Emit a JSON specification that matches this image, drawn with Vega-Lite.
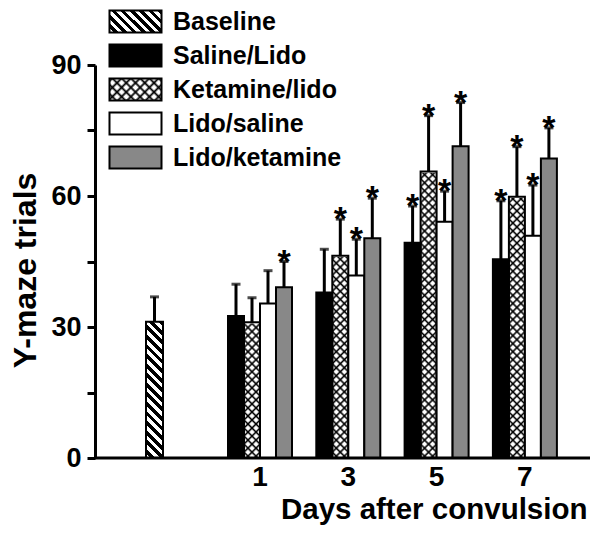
{
"$schema": "https://vega.github.io/schema/vega-lite/v6.json",
"width": 495,
"height": 393,
"autosize": "none",
"padding": {"left": 95, "top": 65, "right": 10, "bottom": 76},
"background": "#ffffff",
"config": {"view": {"stroke": null}, "axis": {"grid": false}},
"params": [
{"name": "stX", "value": [
{"offset":0,"color":"transparent"},{"offset":0.007,"color":"#000"},{"offset":0.014,"color":"transparent"},
{"offset":0.025,"color":"transparent"},{"offset":0.032,"color":"#000"},{"offset":0.039,"color":"transparent"},
{"offset":0.05,"color":"transparent"},{"offset":0.057,"color":"#000"},{"offset":0.064,"color":"transparent"},
{"offset":0.075,"color":"transparent"},{"offset":0.082,"color":"#000"},{"offset":0.089,"color":"transparent"},
{"offset":0.1,"color":"transparent"},{"offset":0.107,"color":"#000"},{"offset":0.114,"color":"transparent"},
{"offset":0.125,"color":"transparent"},{"offset":0.132,"color":"#000"},{"offset":0.139,"color":"transparent"},
{"offset":0.15,"color":"transparent"},{"offset":0.157,"color":"#000"},{"offset":0.164,"color":"transparent"},
{"offset":0.175,"color":"transparent"},{"offset":0.182,"color":"#000"},{"offset":0.189,"color":"transparent"},
{"offset":0.2,"color":"transparent"},{"offset":0.207,"color":"#000"},{"offset":0.214,"color":"transparent"},
{"offset":0.225,"color":"transparent"},{"offset":0.232,"color":"#000"},{"offset":0.239,"color":"transparent"},
{"offset":0.25,"color":"transparent"},{"offset":0.257,"color":"#000"},{"offset":0.264,"color":"transparent"},
{"offset":0.275,"color":"transparent"},{"offset":0.282,"color":"#000"},{"offset":0.289,"color":"transparent"},
{"offset":0.3,"color":"transparent"},{"offset":0.307,"color":"#000"},{"offset":0.314,"color":"transparent"},
{"offset":0.325,"color":"transparent"},{"offset":0.332,"color":"#000"},{"offset":0.339,"color":"transparent"},
{"offset":0.35,"color":"transparent"},{"offset":0.357,"color":"#000"},{"offset":0.364,"color":"transparent"},
{"offset":0.375,"color":"transparent"},{"offset":0.382,"color":"#000"},{"offset":0.389,"color":"transparent"},
{"offset":0.4,"color":"transparent"},{"offset":0.407,"color":"#000"},{"offset":0.414,"color":"transparent"},
{"offset":0.425,"color":"transparent"},{"offset":0.432,"color":"#000"},{"offset":0.439,"color":"transparent"},
{"offset":0.45,"color":"transparent"},{"offset":0.457,"color":"#000"},{"offset":0.464,"color":"transparent"},
{"offset":0.475,"color":"transparent"},{"offset":0.482,"color":"#000"},{"offset":0.489,"color":"transparent"},
{"offset":0.5,"color":"transparent"},{"offset":0.507,"color":"#000"},{"offset":0.514,"color":"transparent"},
{"offset":0.525,"color":"transparent"},{"offset":0.532,"color":"#000"},{"offset":0.539,"color":"transparent"},
{"offset":0.55,"color":"transparent"},{"offset":0.557,"color":"#000"},{"offset":0.564,"color":"transparent"},
{"offset":0.575,"color":"transparent"},{"offset":0.582,"color":"#000"},{"offset":0.589,"color":"transparent"},
{"offset":0.6,"color":"transparent"},{"offset":0.607,"color":"#000"},{"offset":0.614,"color":"transparent"},
{"offset":0.625,"color":"transparent"},{"offset":0.632,"color":"#000"},{"offset":0.639,"color":"transparent"},
{"offset":0.65,"color":"transparent"},{"offset":0.657,"color":"#000"},{"offset":0.664,"color":"transparent"},
{"offset":0.675,"color":"transparent"},{"offset":0.682,"color":"#000"},{"offset":0.689,"color":"transparent"},
{"offset":0.7,"color":"transparent"},{"offset":0.707,"color":"#000"},{"offset":0.714,"color":"transparent"},
{"offset":0.725,"color":"transparent"},{"offset":0.732,"color":"#000"},{"offset":0.739,"color":"transparent"},
{"offset":0.75,"color":"transparent"},{"offset":0.757,"color":"#000"},{"offset":0.764,"color":"transparent"},
{"offset":0.775,"color":"transparent"},{"offset":0.782,"color":"#000"},{"offset":0.789,"color":"transparent"},
{"offset":0.8,"color":"transparent"},{"offset":0.807,"color":"#000"},{"offset":0.814,"color":"transparent"},
{"offset":0.825,"color":"transparent"},{"offset":0.832,"color":"#000"},{"offset":0.839,"color":"transparent"},
{"offset":0.85,"color":"transparent"},{"offset":0.857,"color":"#000"},{"offset":0.864,"color":"transparent"},
{"offset":0.875,"color":"transparent"},{"offset":0.882,"color":"#000"},{"offset":0.889,"color":"transparent"},
{"offset":0.9,"color":"transparent"},{"offset":0.907,"color":"#000"},{"offset":0.914,"color":"transparent"},
{"offset":0.925,"color":"transparent"},{"offset":0.932,"color":"#000"},{"offset":0.939,"color":"transparent"},
{"offset":0.95,"color":"transparent"},{"offset":0.957,"color":"#000"},{"offset":0.964,"color":"transparent"},
{"offset":0.975,"color":"transparent"},{"offset":0.982,"color":"#000"},{"offset":0.989,"color":"transparent"}
]},
{"name": "stH", "value": [
{"offset":0,"color":"#000"},{"offset":0.03125,"color":"#000"},{"offset":0.03125,"color":"#fff"},{"offset":0.0625,"color":"#fff"},
{"offset":0.0625,"color":"#000"},{"offset":0.09375,"color":"#000"},{"offset":0.09375,"color":"#fff"},{"offset":0.125,"color":"#fff"},
{"offset":0.125,"color":"#000"},{"offset":0.15625,"color":"#000"},{"offset":0.15625,"color":"#fff"},{"offset":0.1875,"color":"#fff"},
{"offset":0.1875,"color":"#000"},{"offset":0.21875,"color":"#000"},{"offset":0.21875,"color":"#fff"},{"offset":0.25,"color":"#fff"},
{"offset":0.25,"color":"#000"},{"offset":0.28125,"color":"#000"},{"offset":0.28125,"color":"#fff"},{"offset":0.3125,"color":"#fff"},
{"offset":0.3125,"color":"#000"},{"offset":0.34375,"color":"#000"},{"offset":0.34375,"color":"#fff"},{"offset":0.375,"color":"#fff"},
{"offset":0.375,"color":"#000"},{"offset":0.40625,"color":"#000"},{"offset":0.40625,"color":"#fff"},{"offset":0.4375,"color":"#fff"},
{"offset":0.4375,"color":"#000"},{"offset":0.46875,"color":"#000"},{"offset":0.46875,"color":"#fff"},{"offset":0.5,"color":"#fff"},
{"offset":0.5,"color":"#000"},{"offset":0.53125,"color":"#000"},{"offset":0.53125,"color":"#fff"},{"offset":0.5625,"color":"#fff"},
{"offset":0.5625,"color":"#000"},{"offset":0.59375,"color":"#000"},{"offset":0.59375,"color":"#fff"},{"offset":0.625,"color":"#fff"},
{"offset":0.625,"color":"#000"},{"offset":0.65625,"color":"#000"},{"offset":0.65625,"color":"#fff"},{"offset":0.6875,"color":"#fff"},
{"offset":0.6875,"color":"#000"},{"offset":0.71875,"color":"#000"},{"offset":0.71875,"color":"#fff"},{"offset":0.75,"color":"#fff"},
{"offset":0.75,"color":"#000"},{"offset":0.78125,"color":"#000"},{"offset":0.78125,"color":"#fff"},{"offset":0.8125,"color":"#fff"},
{"offset":0.8125,"color":"#000"},{"offset":0.84375,"color":"#000"},{"offset":0.84375,"color":"#fff"},{"offset":0.875,"color":"#fff"},
{"offset":0.875,"color":"#000"},{"offset":0.90625,"color":"#000"},{"offset":0.90625,"color":"#fff"},{"offset":0.9375,"color":"#fff"},
{"offset":0.9375,"color":"#000"},{"offset":0.96875,"color":"#000"},{"offset":0.96875,"color":"#fff"},{"offset":1,"color":"#fff"}
]}
],
"data": {"values": [
{"day":"Baseline","group":"Baseline","value":31.2,"err":36.9,"sig":""},
{"day":"1","group":"Saline/Lido","value":32.5,"err":39.8,"sig":""},
{"day":"1","group":"Ketamine/lido","value":31.1,"err":36.7,"sig":""},
{"day":"1","group":"Lido/saline","value":35.4,"err":42.9,"sig":""},
{"day":"1","group":"Lido/ketamine","value":39.1,"err":45.0,"sig":"*"},
{"day":"3","group":"Saline/Lido","value":37.9,"err":47.8,"sig":""},
{"day":"3","group":"Ketamine/lido","value":46.3,"err":54.7,"sig":"*"},
{"day":"3","group":"Lido/saline","value":41.8,"err":50.1,"sig":"*"},
{"day":"3","group":"Lido/ketamine","value":50.3,"err":59.5,"sig":"*"},
{"day":"5","group":"Saline/Lido","value":49.3,"err":57.7,"sig":"*"},
{"day":"5","group":"Ketamine/lido","value":65.6,"err":78.4,"sig":"*"},
{"day":"5","group":"Lido/saline","value":54.1,"err":61.1,"sig":"*"},
{"day":"5","group":"Lido/ketamine","value":71.4,"err":81.4,"sig":"*"},
{"day":"7","group":"Saline/Lido","value":45.5,"err":58.9,"sig":"*"},
{"day":"7","group":"Ketamine/lido","value":59.8,"err":71.3,"sig":"*"},
{"day":"7","group":"Lido/saline","value":50.9,"err":62.5,"sig":"*"},
{"day":"7","group":"Lido/ketamine","value":68.6,"err":75.6,"sig":"*"}
]},
"layer": [
{
"transform": [{"filter": "datum.group === 'Baseline'"}],
"encoding": {"x": {"field": "day", "type": "nominal", "scale": {"domain": ["Baseline"], "range": [51, 68], "paddingInner": 0, "paddingOuter": 0}, "axis": null}},
"layer": [
{"mark": {"type": "bar", "fill": {"expr": "{gradient:'linear',x1:1,y1:0,x2:0.8618,y2:1.10754,stops:stH}"}, "stroke": "#000", "strokeWidth": 2},
 "encoding": {"y": {"field": "value", "type": "quantitative", "scale": {"domain": [0, 90], "nice": false},
   "axis": {"values": [0, 15, 30, 45, 60, 75, 90], "labelExpr": "datum.value % 30 === 0 ? datum.label : ''", "labelOverlap": false, "grid": false,
     "domainColor": "#000", "domainWidth": 3, "tickColor": "#000", "tickWidth": 3, "tickSize": 8,
     "labelFont": "Liberation Sans", "labelFontWeight": "bold", "labelFontSize": 27, "labelColor": "#000", "labelPadding": 6,
     "title": "Y-maze trials", "titleFont": "Liberation Sans", "titleFontWeight": "bold", "titleFontSize": 32, "titleColor": "#000",
     "titleX": -60, "titleY": 205, "titleAngle": -90, "titleAlign": "center", "titleBaseline": "alphabetic"}}}},
{"mark": {"type": "rule", "color": "#000", "strokeWidth": 3},
 "encoding": {"y": {"field": "value", "type": "quantitative", "scale": {"domain": [0, 90], "nice": false}}, "y2": {"field": "err"}}},
{"mark": {"type": "tick", "color": "#000", "orient": "horizontal", "size": 9, "thickness": 3},
 "encoding": {"y": {"field": "err", "type": "quantitative", "scale": {"domain": [0, 90], "nice": false}}}}
]
},
{
"transform": [{"filter": "datum.group !== 'Baseline'"}],
"encoding": {
 "x": {"field": "day", "type": "ordinal", "scale": {"domain": ["1", "3", "5", "7"], "range": [133, 461.9], "paddingInner": 0.2752, "paddingOuter": 0},
   "axis": {"title": "Days after convulsion", "domain": false, "ticks": false, "tickSize": 0, "labelAngle": 0,
     "labelFont": "Liberation Sans", "labelFontWeight": "bold", "labelFontSize": 28, "labelColor": "#000", "labelBaseline": "alphabetic", "labelPadding": 27.5,
     "titleFont": "Liberation Sans", "titleFontSize": 29.5, "titleFontWeight": "bold", "titleColor": "#000",
     "titleX": 492, "titleY": 60, "titleAlign": "right", "titleBaseline": "alphabetic"}},
 "xOffset": {"field": "group", "type": "nominal", "scale": {"domain": ["Saline/Lido", "Ketamine/lido", "Lido/saline", "Lido/ketamine"], "paddingInner": 0, "paddingOuter": 0}}
},
"layer": [
{"transform": [{"filter": "datum.group === 'Ketamine/lido'"}],
 "mark": {"type": "bar", "fill": {"expr": "{gradient:'linear',x1:1,y1:0,x2:0.94507,y2:1.04947,stops:stX}"}, "strokeWidth": 0},
 "encoding": {"y": {"datum": 70, "type": "quantitative", "scale": {"domain": [0, 90], "nice": false}}, "y2": {"datum": 0}}},
{"transform": [{"filter": "datum.group === 'Ketamine/lido'"}],
 "mark": {"type": "bar", "fill": {"expr": "{gradient:'linear',x1:0,y1:0,x2:0.05493,y2:1.04947,stops:stX}"}, "strokeWidth": 0},
 "encoding": {"y": {"datum": 70, "type": "quantitative", "scale": {"domain": [0, 90], "nice": false}}, "y2": {"datum": 0}}},
{"transform": [{"filter": "datum.group === 'Ketamine/lido'"}],
 "mark": {"type": "bar", "fill": "#ffffff", "stroke": "#ffffff", "strokeWidth": 2.5},
 "encoding": {"y": {"field": "value", "type": "quantitative", "scale": {"domain": [0, 90], "nice": false}}, "y2": {"datum": 70}}},
{"mark": {"type": "bar", "stroke": "#000", "strokeWidth": 2},
 "encoding": {"y": {"field": "value", "type": "quantitative", "scale": {"domain": [0, 90], "nice": false}},
   "fill": {"condition": [{"test": "datum.group === 'Saline/Lido'", "value": "#000000"}, {"test": "datum.group === 'Lido/ketamine'", "value": "#888888"}, {"test": "datum.group === 'Lido/saline'", "value": "#ffffff"}], "value": "transparent"}}},
{"mark": {"type": "rule", "color": "#000", "strokeWidth": 3},
 "encoding": {"y": {"field": "value", "type": "quantitative", "scale": {"domain": [0, 90], "nice": false}}, "y2": {"field": "err"}}},
{"mark": {"type": "tick", "color": "#000", "orient": "horizontal", "size": 9, "thickness": 3},
 "encoding": {"y": {"field": "err", "type": "quantitative", "scale": {"domain": [0, 90], "nice": false}}}},
{"mark": {"type": "text", "font": "Liberation Sans", "fontWeight": "bold", "fontSize": 34, "dy": 11, "baseline": "alphabetic", "align": "center", "color": "#000"},
 "encoding": {"y": {"field": "err", "type": "quantitative", "scale": {"domain": [0, 90], "nice": false}}, "text": {"field": "sig"}}}
]
},
{
"transform": [{"filter": "false"}],
"mark": {"type": "bar", "stroke": "#000", "strokeWidth": 2},
"encoding": {"fill": {"field": "group", "type": "nominal",
  "scale": {"domain": ["Baseline", "Saline/Lido", "Ketamine/lido", "Lido/saline", "Lido/ketamine"],
    "range": [{"expr": "{gradient:'linear',x1:1,y1:0,x2:-1.41404,y2:1.02132,stops:stH}"}, "#000000", {"expr": "{gradient:'linear',x1:1,y1:0,x2:-5.0351,y2:2.5533,stops:stX}"}, "#ffffff", "#888888"]},
  "legend": {"orient": "none", "legendX": 28, "legendY": -56, "title": null, "padding": 0, "zindex": 1,
    "symbolType": "M-2.364,-1H2.364V1H-2.364Z", "symbolSize": 484, "symbolStrokeColor": "#000", "symbolStrokeWidth": 2, "symbolOpacity": 1,
    "labelFont": "Liberation Sans", "labelFontSize": 25, "labelFontWeight": "bold", "labelColor": "#000", "labelOffset": 25, "labelLimit": 400, "rowPadding": 3}}}
},
{
"transform": [{"filter": "false"}],
"mark": {"type": "bar", "stroke": "transparent", "strokeWidth": 2},
"encoding": {"fill": {"field": "group", "type": "nominal",
  "scale": {"domain": ["Baseline", "Saline/Lido", "Ketamine/lido", "Lido/saline", "Lido/ketamine"],
    "range": ["transparent", "transparent", {"expr": "{gradient:'linear',x1:0,y1:0,x2:6.0351,y2:2.5533,stops:stX}"}, "transparent", "transparent"]},
  "legend": {"orient": "none", "legendX": 28, "legendY": -56, "title": null, "padding": 0, "zindex": 2,
    "symbolType": "M-2.364,-1H2.364V1H-2.364Z", "symbolSize": 484, "symbolStrokeColor": "transparent", "symbolStrokeWidth": 2, "symbolOpacity": 1,
    "labelFont": "Liberation Sans", "labelFontSize": 25, "labelFontWeight": "bold", "labelColor": "#000", "labelExpr": "''", "labelOffset": 25, "labelLimit": 400, "rowPadding": 3}}}
},
{
"transform": [{"filter": "datum.group === 'Baseline'"}],
"mark": {"type": "rule", "color": "#000", "strokeWidth": 3},
"encoding": {"y": {"datum": 0, "type": "quantitative", "scale": {"domain": [0, 90], "nice": false}}}
}
],
"resolve": {"scale": {"x": "independent", "fill": "independent"}}
}
